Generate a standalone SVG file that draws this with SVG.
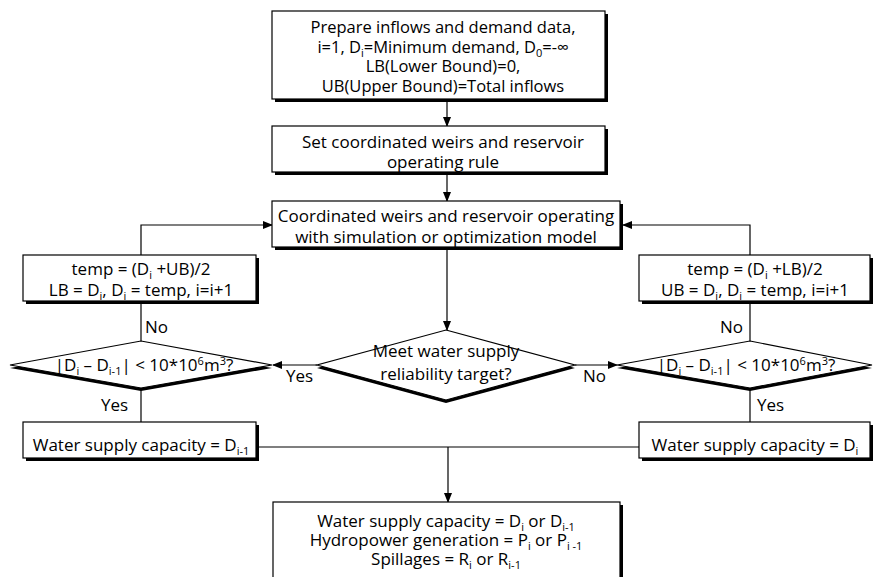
<svg xmlns="http://www.w3.org/2000/svg" width="875" height="577" viewBox="0 0 875 577">
<defs>
<marker id="ah" markerWidth="10" markerHeight="8" refX="9" refY="4" orient="auto" markerUnits="userSpaceOnUse">
<path d="M0,0 L10,4 L0,8 Z" fill="#000"/>
</marker>
<style>
text{font-family:"Open Sans","Noto Sans",sans-serif;font-size:17px;fill:#000;text-anchor:middle}
.t1{font-size:16.5px}
.box{fill:#fff;stroke:#000;stroke-width:1.2}
.sh{fill:#000}
.dia{fill:#fff;stroke:#000;stroke-width:1.2}
.ln{fill:none;stroke:#000;stroke-width:1.2}
.arr{fill:none;stroke:#000;stroke-width:1.2;marker-end:url(#ah)}
.sub{font-size:11px}
.lbl{text-anchor:start}
</style>
</defs>
<rect width="875" height="577" fill="#fff"/>

<g id="connectors">
<line class="arr" x1="447" y1="102" x2="447" y2="126"/>
<line class="arr" x1="447" y1="175" x2="447" y2="201"/>
<line class="arr" x1="447" y1="250" x2="447" y2="330"/>
<polyline class="arr" points="141,255 141,225 272,225"/>
<polyline class="arr" points="750,255 750,225 623,225"/>
<line class="ln" x1="141" y1="304" x2="141" y2="341"/>
<line class="ln" x1="750" y1="304" x2="750" y2="341"/>
<line class="arr" x1="317" y1="365" x2="273" y2="365"/>
<line class="arr" x1="575" y1="365" x2="617" y2="365"/>
<line class="ln" x1="141" y1="389" x2="141" y2="422"/>
<line class="ln" x1="750" y1="389" x2="750" y2="422"/>
<line class="ln" x1="259" y1="447" x2="639" y2="447"/>
<line class="arr" x1="448" y1="447" x2="448" y2="502"/>
<text class="lbl" x="145" y="333">No</text>
<text class="lbl" x="720" y="333">No</text>
<text class="lbl" x="286" y="382">Yes</text>
<text class="lbl" x="583" y="382">No</text>
<text class="lbl" x="101" y="411">Yes</text>
<text class="lbl" x="757" y="411">Yes</text>
</g>

<g id="n1">
<rect class="sh" x="275" y="14" width="333" height="88"/>
<rect class="box" x="272" y="11" width="333" height="88"/>
<text class="t1"><tspan x="443" y="33">Prepare inflows and demand data,</tspan><tspan x="443" y="53">i=1, D</tspan><tspan class="sub" dy="4">i</tspan><tspan dy="-4">=Minimum demand, D</tspan><tspan class="sub" dy="4">0</tspan><tspan dy="-4">=-∞</tspan><tspan x="443" y="72">LB(Lower Bound)=0,</tspan><tspan x="443" y="92">UB(Upper Bound)=Total inflows</tspan></text>
</g>

<g id="n2">
<rect class="sh" x="275" y="129" width="333" height="46"/>
<rect class="box" x="272" y="126" width="333" height="46"/>
<text><tspan x="443" y="148">Set coordinated weirs and reservoir</tspan><tspan x="443" y="168">operating rule</tspan></text>
</g>

<g id="n3">
<rect class="sh" x="275" y="204" width="348" height="46"/>
<rect class="box" x="272" y="201" width="348" height="46"/>
<text><tspan x="446" y="222">Coordinated weirs and reservoir operating</tspan><tspan x="446" y="243">with simulation or optimization model</tspan></text>
</g>

<g id="n4">
<rect class="sh" x="26" y="258" width="233" height="46"/>
<rect class="box" x="23" y="255" width="233" height="46"/>
<text><tspan x="141" y="275">temp = (D</tspan><tspan class="sub" dy="4">i</tspan><tspan dy="-4"> +UB)/2</tspan><tspan x="141" y="296">LB = D</tspan><tspan class="sub" dy="4">i</tspan><tspan dy="-4">, D</tspan><tspan class="sub" dy="4">i</tspan><tspan dy="-4"> = temp, i=i+1</tspan></text>
</g>

<g id="n5">
<rect class="sh" x="642" y="258" width="231" height="46"/>
<rect class="box" x="639" y="255" width="231" height="46"/>
<text><tspan x="755" y="275">temp = (D</tspan><tspan class="sub" dy="4">i</tspan><tspan dy="-4"> +LB)/2</tspan><tspan x="755" y="296">UB = D</tspan><tspan class="sub" dy="4">i</tspan><tspan dy="-4">, D</tspan><tspan class="sub" dy="4">i</tspan><tspan dy="-4"> = temp, i=i+1</tspan></text>
</g>

<g id="n6">
<polygon class="sh" points="141,344 272,368 141,391 10,368"/>
<polygon class="dia" points="141,341 272,365 141,388 10,365"/>
<text x="144" y="371"><tspan>|D</tspan><tspan class="sub" dy="4">i</tspan><tspan dy="-4"> – D</tspan><tspan class="sub" dy="4">i-1</tspan><tspan dy="-4">| &lt; 10*10</tspan><tspan class="sub" dy="-6">6</tspan><tspan dy="6">m</tspan><tspan class="sub" dy="-6">3</tspan><tspan dy="6">?</tspan></text>
</g>

<g id="n7">
<polygon class="sh" points="446,333 575,368 446,403 317,368"/>
<polygon class="dia" points="446,330 575,365 446,400 317,365"/>
<text><tspan x="446" y="357">Meet water supply</tspan><tspan x="446" y="380">reliability target?</tspan></text>
</g>

<g id="n8">
<polygon class="sh" points="750,344 872,368 750,391 617,368"/>
<polygon class="dia" points="750,341 872,365 750,388 617,365"/>
<text x="746" y="371"><tspan>|D</tspan><tspan class="sub" dy="4">i</tspan><tspan dy="-4"> – D</tspan><tspan class="sub" dy="4">i-1</tspan><tspan dy="-4">| &lt; 10*10</tspan><tspan class="sub" dy="-6">6</tspan><tspan dy="6">m</tspan><tspan class="sub" dy="-6">3</tspan><tspan dy="6">?</tspan></text>
</g>

<g id="n9">
<rect class="sh" x="26" y="425" width="233" height="36"/>
<rect class="box" x="23" y="422" width="233" height="36"/>
<text x="141" y="451">Water supply capacity = D<tspan class="sub" dy="4">i-1</tspan></text>
</g>

<g id="n10">
<rect class="sh" x="642" y="425" width="231" height="36"/>
<rect class="box" x="639" y="422" width="231" height="36"/>
<text x="755" y="451">Water supply capacity = D<tspan class="sub" dy="4">i</tspan></text>
</g>

<g id="n11">
<rect class="sh" x="276" y="505" width="347" height="80"/>
<rect class="box" x="273" y="502" width="347" height="80"/>
<text><tspan x="446" y="527">Water supply capacity = D</tspan><tspan class="sub" dy="4">i</tspan><tspan dy="-4"> or D</tspan><tspan class="sub" dy="4">i-1</tspan><tspan x="446" y="546">Hydropower generation = P</tspan><tspan class="sub" dy="4">i</tspan><tspan dy="-4">  or P</tspan><tspan class="sub" dy="4">i -1</tspan><tspan x="446" y="565">Spillages = R</tspan><tspan class="sub" dy="4">i</tspan><tspan dy="-4"> or R</tspan><tspan class="sub" dy="4">i-1</tspan></text>
</g>
</svg>
